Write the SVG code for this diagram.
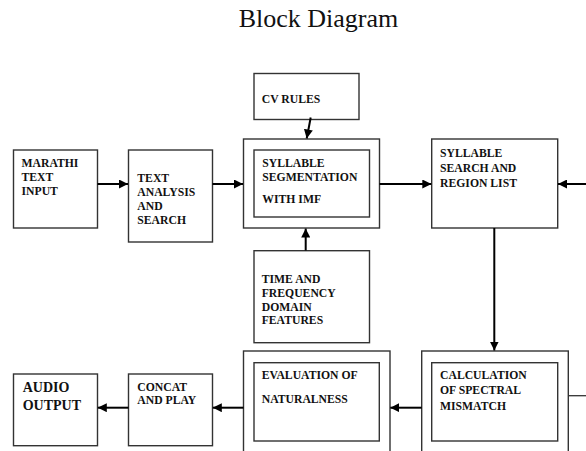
<svg xmlns="http://www.w3.org/2000/svg" width="586" height="451" viewBox="0 0 586 451">
<style>
.box{fill:none;stroke:#333;stroke-width:1.4}
.lbl{font-family:"Liberation Serif","Times New Roman",serif;font-weight:bold;font-size:11.7px;fill:#111}
.big{font-size:14px}
.title{font-family:"Liberation Serif","Times New Roman",serif;font-size:26px;fill:#111}
.con{fill:none;stroke:#000;stroke-width:2}
</style>
<defs>
<marker id="ah" viewBox="0 0 10 10" refX="10" refY="5" markerWidth="4.5" markerHeight="4.5" orient="auto" markerUnits="strokeWidth">
<path d="M0,0 L10,5 L0,10 z" fill="#000"/>
</marker>
</defs>
<rect width="586" height="451" fill="#fff"/>
<text class="title" x="318.5" y="27" text-anchor="middle">Block Diagram</text>

<g id="marathi">
<rect class="box" x="13.5" y="150" width="84" height="78"/>
<text class="lbl" x="21.5" y="167.3">MARATHI</text>
<text class="lbl" x="21.5" y="181">TEXT</text>
<text class="lbl" x="21.5" y="195">INPUT</text>
</g>
<g id="text_analysis">
<rect class="box" x="128.5" y="150" width="84" height="92"/>
<text class="lbl" x="137.3" y="181.7">TEXT</text>
<text class="lbl" x="137.3" y="195.5">ANALYSIS</text>
<text class="lbl" x="137.3" y="210">AND</text>
<text class="lbl" x="137.3" y="224">SEARCH</text>
</g>
<g id="cv_rules">
<rect class="box" x="254" y="73.5" width="105" height="46"/>
<text class="lbl" x="261.7" y="103.3">CV RULES</text>
</g>
<g id="syllable_seg">
<rect class="box" x="243.5" y="139" width="136" height="89"/>
<rect class="box" x="254" y="150" width="115.5" height="67"/>
<text class="lbl" x="262.3" y="166.7">SYLLABLE</text>
<text class="lbl" x="262.3" y="180.7">SEGMENTATION</text>
<text class="lbl" x="262.3" y="202.7">WITH IMF</text>
</g>
<g id="syllable_search">
<rect class="box" x="431.7" y="139" width="126" height="89"/>
<text class="lbl" x="440" y="156.7">SYLLABLE</text>
<text class="lbl" x="440" y="171.7">SEARCH AND</text>
<text class="lbl" x="440" y="187.3">REGION LIST</text>
</g>
<g id="time_freq">
<rect class="box" x="254" y="250.7" width="115.5" height="92"/>
<text class="lbl" x="261.7" y="282.7">TIME AND</text>
<text class="lbl" x="261.7" y="296.7">FREQUENCY</text>
<text class="lbl" x="261.7" y="310.7">DOMAIN</text>
<text class="lbl" x="261.7" y="324.3">FEATURES</text>
</g>
<g id="calculation">
<rect class="box" x="421.7" y="351" width="146.6" height="110"/>
<rect class="box" x="431.7" y="362.7" width="126" height="78.3"/>
<text class="lbl" x="440" y="379">CALCULATION</text>
<text class="lbl" x="440" y="394.3">OF SPECTRAL</text>
<text class="lbl" x="440" y="410">MISMATCH</text>
</g>
<g id="evaluation">
<rect class="box" x="243.5" y="351" width="146.5" height="110"/>
<rect class="box" x="254" y="362.7" width="125.3" height="78.3"/>
<text class="lbl" x="261.7" y="379">EVALUATION OF</text>
<text class="lbl" x="261.7" y="403.3">NATURALNESS</text>
</g>
<g id="concat">
<rect class="box" x="128.5" y="374" width="84" height="71.7"/>
<text class="lbl" x="137.3" y="390.7">CONCAT</text>
<text class="lbl" x="137.3" y="404">AND PLAY</text>
</g>
<g id="audio">
<rect class="box" x="13.5" y="374" width="84" height="71.7"/>
<text class="lbl big" x="22.7" y="391.7">AUDIO</text>
<text class="lbl big" x="22.7" y="410">OUTPUT</text>
</g>

<g id="connectors">
<line class="con" x1="97.5" y1="184" x2="128" y2="184" marker-end="url(#ah)"/>
<line class="con" x1="212.5" y1="184" x2="243" y2="184" marker-end="url(#ah)"/>
<line class="con" x1="310.7" y1="117.5" x2="306.7" y2="138.5" marker-end="url(#ah)"/>
<line class="con" x1="305.7" y1="250.5" x2="305.7" y2="228.5" marker-end="url(#ah)"/>
<line class="con" x1="379.5" y1="184" x2="431.3" y2="184" marker-end="url(#ah)"/>
<line class="con" x1="586" y1="184" x2="558" y2="184" marker-end="url(#ah)"/>
<line class="con" x1="494.3" y1="228" x2="494.3" y2="350.5" marker-end="url(#ah)"/>
<line class="con" x1="421.7" y1="407.7" x2="390.3" y2="407.7" marker-end="url(#ah)"/>
<line class="con" x1="243.5" y1="407.7" x2="212.8" y2="407.7" marker-end="url(#ah)"/>
<line class="con" x1="128.5" y1="407.7" x2="97.8" y2="407.7" marker-end="url(#ah)"/>
<line x1="568.3" y1="395.7" x2="586" y2="395.7" stroke="#333" stroke-width="1.3"/>
</g>
</svg>
